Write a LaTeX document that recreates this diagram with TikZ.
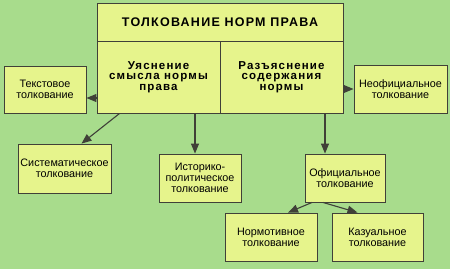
\documentclass[tikz,border=0pt]{standalone}
\usepackage{fontspec}
\setmainfont{Liberation Sans}
\newfontfamily\spaced[LetterSpace=10]{Liberation Sans}
\usepackage{xcolor}
\usetikzlibrary{arrows.meta,positioning,calc}

\definecolor{meadow}{RGB}{168,220,140}
\definecolor{straw}{RGB}{230,244,140}
\definecolor{ink}{RGB}{64,64,56}

\begin{document}
\begin{tikzpicture}[x=1pt, y=-1pt,
  box/.style={rectangle, draw=ink, line width=0.9pt, fill=straw,
              inner sep=1pt, align=center,
              font=\fontsize{10.8}{11}\selectfont},
  head/.style={box, font=\spaced\bfseries\fontsize{12.5}{13}\selectfont},
  part/.style={box, font=\spaced\bfseries\fontsize{11.5}{10.5}\selectfont},
  arr/.style={-{Triangle[length=10pt, width=8pt]}, ink, line width=1.1pt}
]
  \fill[meadow] (0,0) rectangle (450,269);
  \useasboundingbox (0,0) rectangle (450,269);

  % main block
  \node[head, minimum width=246pt, minimum height=39pt] (title) at (220,22.5) {ТОЛКОВАНИЕ НОРМ ПРАВА};
  \node[part, minimum width=123pt, minimum height=72pt] (clarify) at (158.5,77) {Уяснение\\смысла нормы\\права};
  \node[part, minimum width=123pt, minimum height=72pt] (explain) at (281.5,77) {Разъяснение\\содержания\\нормы};

  % kinds of interpretation
  \node[box, minimum width=82pt, minimum height=47pt] (textual) at (45,89.5) {Текстовое\\толкование};
  \node[box, minimum width=93pt, minimum height=49pt] (system) at (64.5,168.5) {Систематическое\\толкование};
  \node[box, minimum width=82pt, minimum height=48pt] (hist) at (200,178) {Историко-\\политическое\\толкование};
  \node[box, minimum width=80pt, minimum height=48pt] (official) at (345,178) {Официальное\\толкование};
  \node[box, minimum width=93pt, minimum height=48pt] (unofficial) at (400.5,89) {Неофициальное\\толкование};
  \node[box, minimum width=92pt, minimum height=48pt] (normative) at (271,237) {Нормотивное\\толкование};
  \node[box, minimum width=91pt, minimum height=48pt] (casual) at (377.5,237) {Казуальное\\толкование};

  \draw[arr] (clarify.west |- 0,98) -- (textual.east |- 0,98);
  \draw[arr] ([xshift=23pt]clarify.south west) -- ([xshift=17pt]system.north);
  \draw[arr] ([xshift=-5pt]hist.north |- clarify.south) -- ([xshift=-5pt]hist.north);
  \draw[arr] ([xshift=-20pt]official.north |- explain.south) -- ([xshift=-20pt]official.north);
  \draw[arr] (explain.east |- unofficial.west) -- (unofficial.west);
  \draw[arr] ([xshift=-33pt]official.south) -- ([xshift=17pt]normative.north);
  \draw[arr] ([xshift=-22pt]official.south) -- ([xshift=-20pt]casual.north);
\end{tikzpicture}
\end{document}
